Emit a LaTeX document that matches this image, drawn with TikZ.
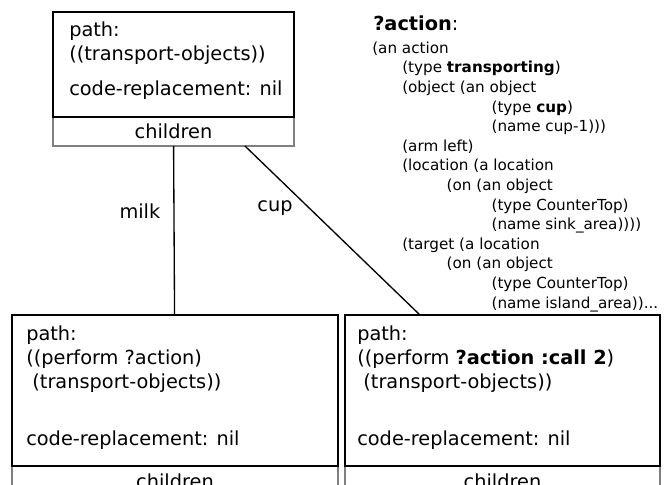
\documentclass[tikz,border=0pt]{standalone}
\usepackage{fontspec}
\setmainfont{DejaVu Sans}
\usetikzlibrary{positioning,calc}

\newcommand{\lvlA}{\hspace*{22.5pt}}
\newcommand{\lvlB}{\hspace*{55.8pt}}
\newcommand{\lvlC}{\hspace*{89.5pt}}

\begin{document}
\begin{tikzpicture}[x=0.75pt, y=-0.75pt,
    framebox/.style={rectangle, draw, outer sep=0pt, inner sep=0pt},
    kidsrow/.style={rectangle, draw=gray, line width=0.8pt, outer sep=0pt, inner sep=0pt, font=\fontsize{14.5}{18}\selectfont},
    boxtext/.style={anchor=base west, inner sep=0pt, align=left, font=\fontsize{14.5}{18}\selectfont},
    edgelabel/.style={inner sep=0pt, font=\fontsize{14.5}{18}\selectfont}]

    \useasboundingbox (0,0) rectangle (665,485);

    % Top node
    \node[kidsrow, anchor=north west, minimum width=180.75pt, minimum height=21.75pt] (rootkids) at (53,117) {children};
    \node[framebox, line width=1pt, minimum width=180.75pt, minimum height=78.75pt, above=0pt of rootkids] (root) {};
    \node[boxtext] (roottxt) at (69,96) {path:\\((transport-objects))\\[8.25pt]code-replacement: nil};

    % Bottom nodes
    \node[kidsrow, anchor=north west, minimum width=244.5pt, minimum height=22.5pt] (leftkids) at (12,466) {children};
    \node[framebox, line width=1.7pt, minimum width=244.5pt, minimum height=113.25pt, above=0pt of leftkids] (left) {};
    \node[boxtext] (lefttxt) at (26,445) {path:\\((perform ?action)\\\mbox{} (transport-objects))\\[24.2pt]code-replacement: nil};

    \node[kidsrow, anchor=north west, minimum width=236.25pt, minimum height=22.5pt] (rightkids) at (345,466) {children};
    \node[framebox, line width=1.7pt, minimum width=236.25pt, minimum height=113.25pt, above=0pt of rightkids] (right) {};
    \node[boxtext] (righttxt) at (357,445) {path:\\((perform \textbf{?action :call 2})\\\mbox{} (transport-objects))\\[24.2pt]code-replacement: nil};

    % Edges
    \draw[line width=1pt] (rootkids) -- node[edgelabel, pos=0.385, left=9.75pt] {milk} (left);
    \draw[line width=1pt] ([xshift=53.6pt]rootkids.south) -- node[edgelabel, pos=0.367, left=12pt] {cup} ([xshift=-61.9pt]right.north);

    % ?action description
    \node[anchor=base west, inner sep=0pt, font=\fontsize{14.5}{18}\selectfont] (acttitle) at (373,31) {\textbf{?action}:};
    \node[anchor=base west, inner sep=0pt, align=left, font=\fontsize{11.4}{14.7}\selectfont] (actbody) at (372,308) {(an action\\
        \lvlA(type \textbf{transporting})\\
        \lvlA(object (an object\\
        \lvlC(type \textbf{cup})\\
        \lvlC(name cup-1)))\\
        \lvlA(arm left)\\
        \lvlA(location (a location\\
        \lvlB(on (an object\\
        \lvlC(type CounterTop)\\
        \lvlC(name sink\_area))))\\
        \lvlA(target (a location\\
        \lvlB(on (an object\\
        \lvlC(type CounterTop)\\
        \lvlC(name island\_area))...};

\end{tikzpicture}
\end{document}
